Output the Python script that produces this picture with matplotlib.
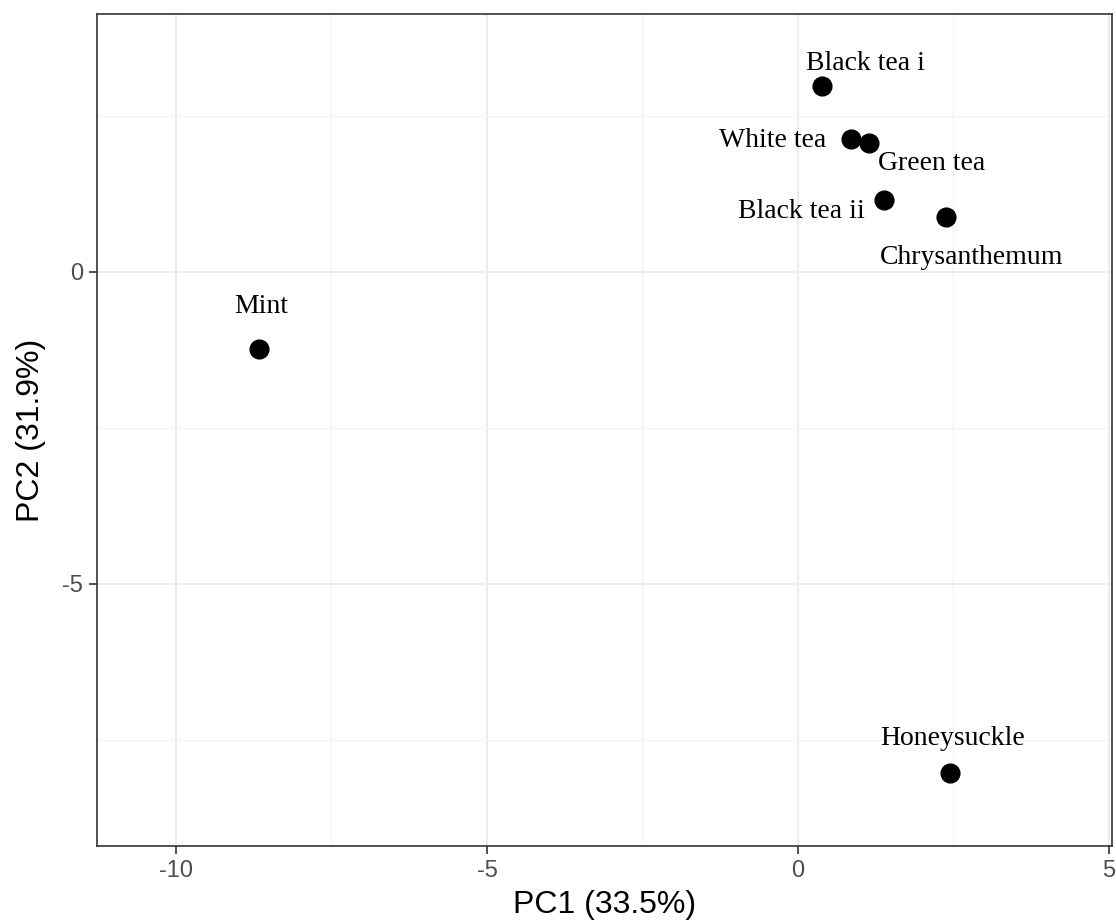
import matplotlib
matplotlib.use("Agg")
import matplotlib.pyplot as plt
from matplotlib.ticker import MultipleLocator

plt.rcParams["axes.unicode_minus"] = False
plt.rcParams["font.family"] = ["Liberation Sans", "DejaVu Sans"]

names = ["Black tea i", "White tea", "Green tea", "Black tea ii",
         "Chrysanthemum", "Mint", "Honeysuckle"]
pc1 = [0.39, 0.85, 1.14, 1.39, 2.38, -8.67, 2.44]
pc2 = [2.98, 2.13, 2.07, 1.15, 0.87, -1.23, -8.03]
label_x = [1.09, -0.40, 2.15, 0.05, 2.80, -8.63, 2.48]
label_y = [3.33, 2.11, 1.73, 0.96, 0.23, -0.55, -7.47]

fig = plt.figure(figsize=(11.16, 9.22), dpi=100)
ax = fig.add_axes([97/1116, 1-846/922, (1112-97)/1116, (846-14)/922])

ax.set_xlim(-11.27, 5.05)
ax.set_ylim(-9.20, 4.13)

ax.xaxis.set_major_locator(MultipleLocator(5))
ax.yaxis.set_major_locator(MultipleLocator(5))
ax.xaxis.set_minor_locator(MultipleLocator(2.5))
ax.yaxis.set_minor_locator(MultipleLocator(2.5))
ax.grid(which="major", color="#EBEBEB", linewidth=1.3, zorder=0)
ax.grid(which="minor", color="#F2F2F2", linewidth=0.8, zorder=0)
ax.set_axisbelow(True)
ax.tick_params(which="minor", length=0)
ax.tick_params(which="major", length=6, width=1.2, color="#333333",
               labelsize=17, labelcolor="#4D4D4D", pad=4)
for s in ax.spines.values():
    s.set_color("#333333")
    s.set_linewidth(1.2)

ax.plot(pc1, pc2, "o", color="black", markersize=13.5, linestyle="none", zorder=3)
for n, lx, ly in zip(names, label_x, label_y):
    ax.text(lx, ly, n, family="Liberation Serif", fontsize=20, ha="center",
            va="center", color="black", zorder=4)

ax.set_xlabel("PC1 (33.5%)", fontsize=23, labelpad=6)
ax.set_ylabel("PC2 (31.9%)", fontsize=23, labelpad=12)

fig.savefig("out.png", dpi=100)
